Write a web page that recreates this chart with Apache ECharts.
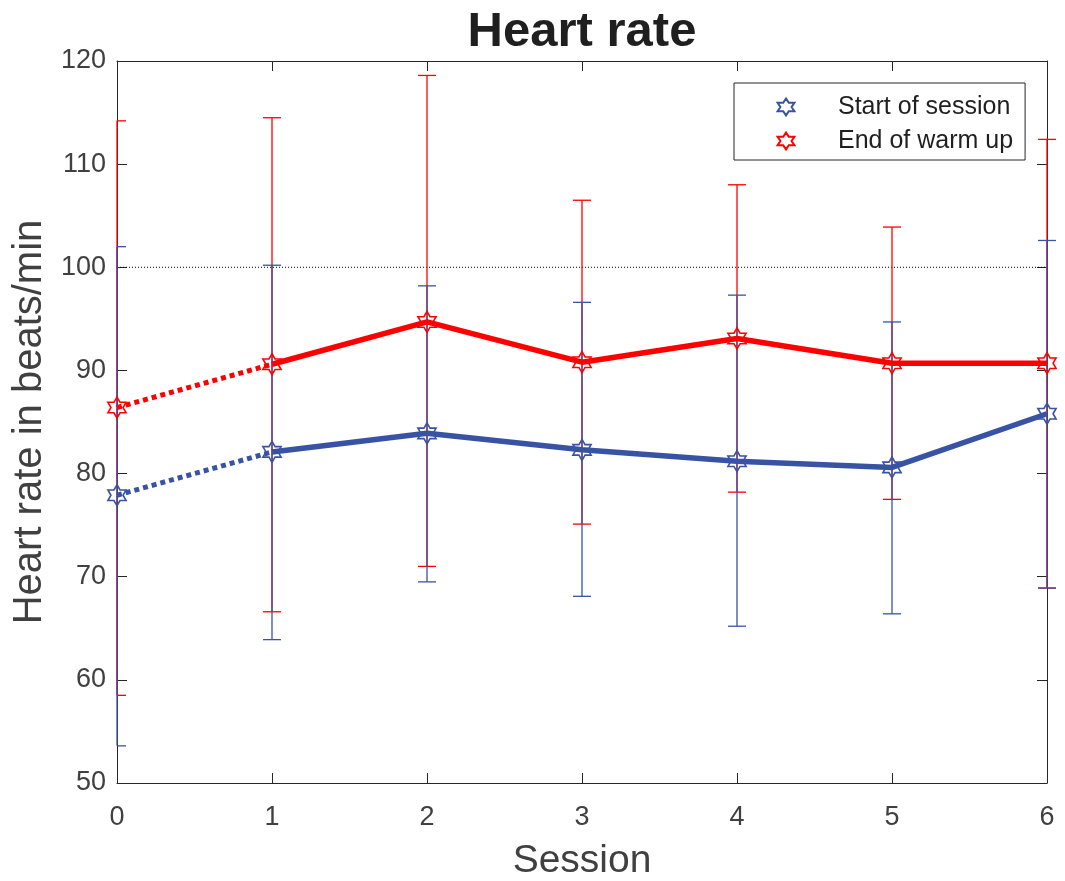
<!DOCTYPE html>
<html>
<head>
<meta charset="utf-8">
<script src="https://cdn.jsdelivr.net/npm/echarts@6/dist/echarts.min.js"></script>
<style>
html,body{margin:0;padding:0;background:#fff;}
#main{width:1065px;height:881px;}
</style>
</head>
<body>
<div id="main"></div>
<script>
// ---- data ----
const sessions   = [0, 1, 2, 3, 4, 5, 6];
const startMean  = [77.9, 82.1, 83.9, 82.3, 81.2, 80.6, 85.8];
const startUpper = [102.0, 100.2, 98.2, 96.6, 97.3, 94.7, 102.6];
const startLower = [53.6, 63.9, 69.5, 68.1, 65.2, 66.4, 68.9];
const warmMean   = [86.4, 90.6, 94.7, 90.8, 93.1, 90.7, 90.7];
const warmUpper  = [114.2, 114.5, 118.6, 106.5, 108.0, 103.9, 112.4];
const warmLower  = [58.5, 66.6, 71.0, 75.1, 78.2, 77.5, 68.9];
const refLevel   = 100;
const yTicks     = [50, 60, 70, 80, 90, 100, 110, 120];
const xTicks     = [0, 1, 2, 3, 4, 5, 6];
const seriesNames = ['Start of session', 'End of warm up'];

const BLUE = '#3953a4';
const RED = '#ff0000';
const AXIS = '#262626';
const LABEL = '#404040';
const FONT = '"Liberation Sans", Arial, Helvetica, sans-serif';
const STAR = 'path://M0,-100L28.9,-50L86.6,-50L57.7,0L86.6,50L28.9,50L0,100L-28.9,50L-86.6,50L-57.7,0L-86.6,-50L-28.9,-50Z';

function pts(xs, ys) { return xs.map((x, i) => [x, ys[i]]); }
function dottedPart(xs, ys) { return [[xs[0], ys[0]], [xs[1], ys[1]]]; }
function solidPart(xs, ys) { return xs.slice(1).map((x, i) => [x, ys[i + 1]]); }
function errData(xs, lo, hi) { return xs.map((x, i) => [x, lo[i], hi[i]]); }

function errRender(color) {
  return function (params, api) {
    const x = api.value(0);
    const lo = api.coord([x, api.value(1)]);
    const hi = api.coord([x, api.value(2)]);
    const hw = 9;
    const leftEdge = params.coordSys.x;
    const st = { stroke: color, lineWidth: 1.3 };
    return {
      type: 'group',
      children: [
        { type: 'line', shape: { x1: hi[0], y1: hi[1], x2: lo[0], y2: lo[1] }, style: st },
        { type: 'line', shape: { x1: Math.max(hi[0] - hw, leftEdge), y1: hi[1], x2: hi[0] + hw, y2: hi[1] }, style: st },
        { type: 'line', shape: { x1: Math.max(lo[0] - hw, leftEdge), y1: lo[1], x2: lo[0] + hw, y2: lo[1] }, style: st }
      ]
    };
  };
}

const chart = echarts.init(document.getElementById('main'), null, { renderer: 'canvas' });

const axisCommon = {
  axisLine: { show: true, onZero: false, lineStyle: { color: AXIS, width: 1 } },
  axisTick: { show: true, inside: true, length: 10, lineStyle: { color: AXIS, width: 1 } },
  splitLine: { show: false }
};

const option = {
  animation: false,
  backgroundColor: '#ffffff',
  title: {
    text: 'Heart rate',
    left: 582,
    top: 8,
    padding: 0,
    textAlign: 'center',
    textStyle: { fontFamily: FONT, fontSize: 49, fontWeight: 'bold', color: '#1f1f1f' }
  },
  grid: { left: 117, right: 18, top: 61, bottom: 98, containLabel: false, outerBoundsMode: 'none' },
  legend: {
    data: seriesNames,
    orient: 'vertical',
    left: 734,
    top: 83,
    padding: [11, 12, 6, 5],
    itemWidth: 94,
    itemHeight: 21,
    itemGap: 8,
    borderColor: AXIS,
    borderWidth: 1,
    backgroundColor: '#ffffff',
    textStyle: { fontFamily: FONT, fontSize: 25, color: '#1f1f1f', lineHeight: 26 }
  },
  xAxis: [
    Object.assign({
      type: 'value', min: xTicks[0], max: xTicks[xTicks.length - 1], interval: 1,
      position: 'bottom',
      name: 'Session', nameLocation: 'middle', nameGap: 59,
      nameTextStyle: { fontFamily: FONT, fontSize: 39, color: LABEL },
      axisLabel: { show: true, margin: 21, fontFamily: FONT, fontSize: 27, color: LABEL }
    }, axisCommon),
    Object.assign({
      type: 'value', min: xTicks[0], max: xTicks[xTicks.length - 1], interval: 1,
      position: 'top', axisLabel: { show: false }
    }, axisCommon)
  ],
  yAxis: [
    Object.assign({
      type: 'value', min: yTicks[0], max: yTicks[yTicks.length - 1], interval: 10,
      position: 'left',
      name: 'Heart rate in beats/min', nameLocation: 'middle', nameGap: 64,
      nameTextStyle: { fontFamily: FONT, fontSize: 40, color: LABEL },
      axisLabel: { show: true, margin: 11, fontFamily: FONT, fontSize: 27, color: LABEL }
    }, axisCommon),
    Object.assign({
      type: 'value', min: yTicks[0], max: yTicks[yTicks.length - 1], interval: 10,
      position: 'right', axisLabel: { show: false }
    }, axisCommon)
  ],
  series: [
    {
      name: 'ref', type: 'line', data: [[xTicks[0], refLevel], [xTicks[xTicks.length - 1], refLevel]],
      symbol: 'none', silent: true, z: 1,
      lineStyle: { color: '#000000', width: 1, type: [1, 2] }
    },
    {
      name: 'startErr', type: 'custom', data: errData(sessions, startLower, startUpper),
      renderItem: errRender(BLUE), z: 3, silent: true
    },
    {
      name: 'startDotted', type: 'line', data: dottedPart(sessions, startMean),
      symbol: 'none', z: 4, lineStyle: { color: BLUE, width: 5, type: [5, 4], cap: 'butt' }
    },
    {
      name: 'startSolid', type: 'line', data: solidPart(sessions, startMean),
      symbol: 'none', z: 4, lineStyle: { color: BLUE, width: 5.5 }
    },
    {
      name: 'warmErr', type: 'custom', data: errData(sessions, warmLower, warmUpper),
      renderItem: errRender(RED), z: 2, silent: true
    },
    {
      name: 'warmDotted', type: 'line', data: dottedPart(sessions, warmMean),
      symbol: 'none', z: 4, lineStyle: { color: RED, width: 5, type: [5, 4], cap: 'butt' }
    },
    {
      name: 'warmSolid', type: 'line', data: solidPart(sessions, warmMean),
      symbol: 'none', z: 4, lineStyle: { color: RED, width: 5.5 }
    },
    {
      name: seriesNames[0], type: 'line', data: pts(sessions, startMean),
      symbol: STAR, symbolSize: 21, symbolKeepAspect: true, showAllSymbol: true, z: 6,
      lineStyle: { width: 0, opacity: 0, color: BLUE },
      itemStyle: { color: 'rgba(255,255,255,0)', borderColor: BLUE, borderWidth: 1.6 }
    },
    {
      name: seriesNames[1], type: 'line', data: pts(sessions, warmMean),
      symbol: STAR, symbolSize: 21, symbolKeepAspect: true, showAllSymbol: true, z: 6,
      lineStyle: { width: 0, opacity: 0, color: RED },
      itemStyle: { color: 'rgba(255,255,255,0)', borderColor: RED, borderWidth: 1.6 }
    }
  ]
};

chart.setOption(option);
</script>
</body>
</html>
